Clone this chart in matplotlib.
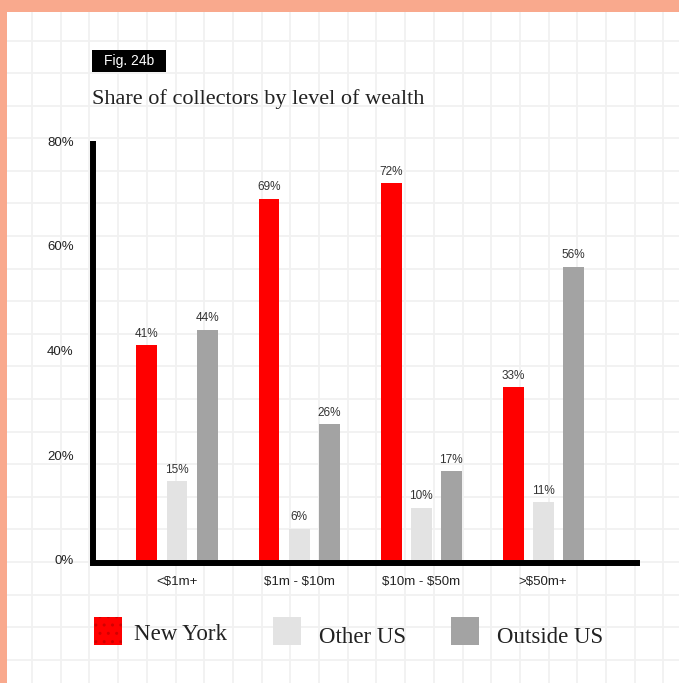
import numpy as np
import matplotlib
matplotlib.use("Agg")
import matplotlib.pyplot as plt
from matplotlib.patches import Rectangle
from matplotlib.lines import Line2D

plt.rcParams["text.parse_math"] = False

# data
categories = ["<$1m+", "$1m - $10m", "$10m - $50m", ">$50m+"]
new_york = [41, 69, 72, 33]
other_us = [15, 6, 10, 11]
outside_us = [44, 26, 17, 56]
series_names = ["New York", "Other US", "Outside US"]
y_ticks = [0, 20, 40, 60, 80]

colors = ["#ff0000", "#e3e3e3", "#a3a3a3"]
W, H = 679, 683


def fx(px):
    return px / W


def fy(py):
    # pixel from top -> figure fraction
    return 1 - py / H


fig = plt.figure(figsize=(W / 100, H / 100), dpi=100, facecolor="white")

# =====================
# background grid paper
# =====================
for gx in np.arange(32, W, 28.7):
    fig.add_artist(Line2D([fx(gx), fx(gx)], [0, 1], color="#f1f1f1", lw=1.3, zorder=0))
for gy in np.arange(40.5, H, 32.6):
    fig.add_artist(Line2D([0, 1], [fy(gy), fy(gy)], color="#f1f1f1", lw=1.3, zorder=0))

# salmon frame (top and left)
fig.add_artist(Rectangle((0, fy(12)), 1, 12 / H, transform=fig.transFigure,
                         facecolor="#f9a98d", edgecolor="none", zorder=5))
fig.add_artist(Rectangle((0, 0), 7 / W, 1, transform=fig.transFigure,
                         facecolor="#f9a98d", edgecolor="none", zorder=5))

# =====================
# bars
# =====================
ax = fig.add_axes([fx(93), fy(563), fx(637) - fx(93), fy(141) - fy(563)])
ax.set_facecolor("none")

x = np.arange(len(categories))
offset = 0.246
width = 0.172
for i, (vals, c) in enumerate(zip([new_york, other_us, outside_us], colors)):
    pos = x + (i - 1) * offset
    ax.bar(pos, vals, width=width, color=c, zorder=2)
    for p, v in zip(pos, vals):
        ax.text(p, v + 1.0, f"{v}%", ha="center", va="bottom",
                fontsize=8.5, family="Liberation Sans", color="#333333")

ax.set_xlim(-0.6885, 3.77)
ax.set_ylim(-0.573, 80)
ax.set_xticks(x)
ax.set_xticklabels(categories, family="Liberation Sans", fontsize=9.5, color="#222222")
ax.set_yticks(y_ticks)
ax.set_yticklabels([f"{t}%" for t in y_ticks], family="Liberation Sans",
                   fontsize=9.5, color="#222222")
ax.tick_params(axis="x", length=0, pad=9.5)
ax.tick_params(axis="y", length=0, pad=14)

for s in ["top", "right"]:
    ax.spines[s].set_visible(False)
ax.spines["left"].set_linewidth(4.3)
ax.spines["left"].set_capstyle("butt")
ax.spines["bottom"].set_linewidth(4.3)
ax.spines["bottom"].set_capstyle("projecting")
ax.spines["left"].set_zorder(3)
ax.spines["bottom"].set_zorder(3)

# =====================
# titles
# =====================
fig.add_artist(Rectangle((fx(92), fy(72)), 74 / W, 22 / H, transform=fig.transFigure,
                         facecolor="black", edgecolor="none"))
fig.text(fx(129), fy(61), "Fig. 24b", ha="center", va="center", color="white",
         fontsize=10, family="Liberation Sans")
fig.text(fx(92), fy(104), "Share of collectors by level of wealth", ha="left",
         va="baseline", fontsize=16, family="Liberation Serif", color="#222222")

# =====================
# legend
# =====================
sq_x = [94, 273, 451]
txt_x = [134, 319, 497]
txt_base = [640, 643, 643]
for i, name in enumerate(series_names):
    rect = Rectangle((fx(sq_x[i]), fy(645)), 28 / W, 28 / H, transform=fig.transFigure,
                     facecolor=colors[i], edgecolor="none")
    if i == 0:
        rect.set_hatch("..")
        rect.set_edgecolor("#d20000")
        rect.set_linewidth(0)
    fig.add_artist(rect)
    fig.text(fx(txt_x[i]), fy(txt_base[i]), name, ha="left", va="baseline",
             fontsize=16.5, family="Liberation Serif", color="#222222")

plt.savefig("out.png", dpi=100, facecolor="white")
